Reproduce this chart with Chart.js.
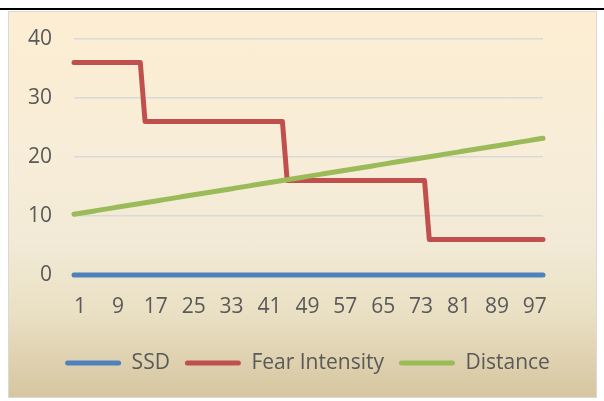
<!DOCTYPE html>
<html>
<head>
<meta charset="utf-8">
<script src="https://cdn.jsdelivr.net/npm/chart.js@4.4.0/dist/chart.umd.min.js"></script>
<style>
  html, body { margin: 0; padding: 0; background: #ffffff; width: 604px; height: 401px; overflow: hidden; }
  #topline { position: absolute; left: 0; top: 8px; width: 604px; height: 2px; background: #000; }
  #box { position: absolute; left: 8px; top: 11px; width: 589px; height: 387px; box-sizing: border-box;
         border: 1px solid #D9D9D9;
         background: linear-gradient(to bottom, #FDEED2 0%, #F8EDD8 35%, #F2EAD6 60%, #EAE0C4 78%, #D6C6A0 100%); }
  #c { position: absolute; left: 8px; top: 11px; }
</style>
</head>
<body>
<div id="topline"></div>
<div id="box"></div>
<canvas id="c" width="589" height="387"></canvas>
<script>
const categories = [1,2,3,4,5,6,7,8,9,10,11,12,13,14,15,16,17,18,19,20,
  21,22,23,24,25,26,27,28,29,30,31,32,33,34,35,36,37,38,39,40,
  41,42,43,44,45,46,47,48,49,50,51,52,53,54,55,56,57,58,59,60,
  61,62,63,64,65,66,67,68,69,70,71,72,73,74,75,76,77,78,79,80,
  81,82,83,84,85,86,87,88,89,90,91,92,93,94,95,96,97,98,99,100];

const tickLabels = ['1','9','17','25','33','41','49','57','65','73','81','89','97'];
const yTicks = [0, 10, 20, 30, 40];

const ssd = [0,0,0,0,0,0,0,0,0,0,0,0,0,0,0,0,0,0,0,0,
  0,0,0,0,0,0,0,0,0,0,0,0,0,0,0,0,0,0,0,0,
  0,0,0,0,0,0,0,0,0,0,0,0,0,0,0,0,0,0,0,0,
  0,0,0,0,0,0,0,0,0,0,0,0,0,0,0,0,0,0,0,0,
  0,0,0,0,0,0,0,0,0,0,0,0,0,0,0,0,0,0,0,0];

const fearIntensity = [36,36,36,36,36,36,36,36,36,36,36,36,36,36,36,
  26,26,26,26,26,26,26,26,26,26,26,26,26,26,26,26,26,26,26,26,26,26,26,26,26,26,26,26,26,26,
  16,16,16,16,16,16,16,16,16,16,16,16,16,16,16,16,16,16,16,16,16,16,16,16,16,16,16,16,16,16,
  6,6,6,6,6,6,6,6,6,6,6,6,6,6,6,6,6,6,6,6,6,6,6,6,6];

const distance = [10.30,10.43,10.56,10.69,10.82,10.95,11.08,11.21,11.34,11.47,
  11.60,11.73,11.86,11.99,12.12,12.25,12.38,12.51,12.64,12.77,
  12.90,13.03,13.16,13.29,13.42,13.55,13.68,13.81,13.94,14.07,
  14.20,14.33,14.46,14.59,14.72,14.85,14.98,15.11,15.24,15.37,
  15.50,15.63,15.76,15.89,16.02,16.15,16.28,16.41,16.54,16.67,
  16.80,16.93,17.06,17.19,17.32,17.45,17.58,17.71,17.84,17.97,
  18.10,18.23,18.36,18.49,18.62,18.75,18.88,19.01,19.14,19.27,
  19.40,19.53,19.66,19.79,19.92,20.05,20.18,20.31,20.44,20.57,
  20.70,20.83,20.96,21.09,21.22,21.35,21.48,21.61,21.74,21.87,
  22.00,22.13,22.26,22.39,22.52,22.65,22.78,22.91,23.04,23.17];

const FONT = { family: "'Open Sans', sans-serif", size: 21 };
const TEXT = '#595959';

function ds(label, data, color, order) {
  return { label, data, borderColor: color, backgroundColor: color, borderWidth: 5,
    pointRadius: 0, pointHoverRadius: 0, tension: 0, fill: false, clip: false,
    borderCapStyle: 'round', borderJoinStyle: 'round', order };
}

new Chart(document.getElementById('c'), {
  type: 'line',
  data: {
    labels: categories,
    datasets: [
      ds('SSD', ssd, '#4F81BD', 3),
      ds('Fear Intensity', fearIntensity, '#C0504D', 2),
      ds('Distance', distance, '#9BBB59', 1)
    ]
  },
  options: {
    responsive: false,
    animation: false,
    events: [],
    layout: { padding: { top: 28, left: 10, right: 0, bottom: 14.5 } },
    plugins: {
      tooltip: { enabled: false },
      legend: {
        position: 'bottom',
        labels: {
          font: FONT, color: TEXT,
          boxWidth: 56, boxHeight: 5, padding: 15,
          useBorderRadius: true, borderRadius: 2.5,
          sort: (a, b) => a.datasetIndex - b.datasetIndex,
          generateLabels: (chart) => {
            const items = Chart.defaults.plugins.legend.labels.generateLabels(chart);
            items.forEach(it => { it.lineWidth = 0; });
            return items;
          }
        }
      }
    },
    scales: {
      x: {
        grid: { display: false, drawTicks: false },
        border: { display: false },
        ticks: {
          font: FONT, color: TEXT, autoSkip: false, maxRotation: 0, minRotation: 0,
          padding: 19.5, labelOffset: 6,
          callback: function(value, index) {
            const s = String(categories[index]);
            return tickLabels.includes(s) ? s : '';
          }
        },
        afterFit: (s) => { s.height = 62.5; s.paddingLeft = 0; s.paddingRight = 0; }
      },
      y: {
        min: 0, max: 40,
        grid: { color: '#D9D9D9', lineWidth: 1.5, drawTicks: false },
        border: { display: false },
        ticks: { font: FONT, color: TEXT, padding: 22, stepSize: 10,
          callback: (v) => yTicks.includes(v) ? String(v) : '' },
        afterFit: (s) => { s.width = 56; s.paddingTop = 0; s.paddingBottom = 0; }
      },
      y2: {
        position: 'right',
        display: true,
        grid: { display: false, drawTicks: false },
        border: { display: false },
        ticks: { display: false },
        afterFit: (s) => { s.width = 54; s.paddingTop = 0; s.paddingBottom = 0; }
      }
    }
  }
});
</script>
</body>
</html>
